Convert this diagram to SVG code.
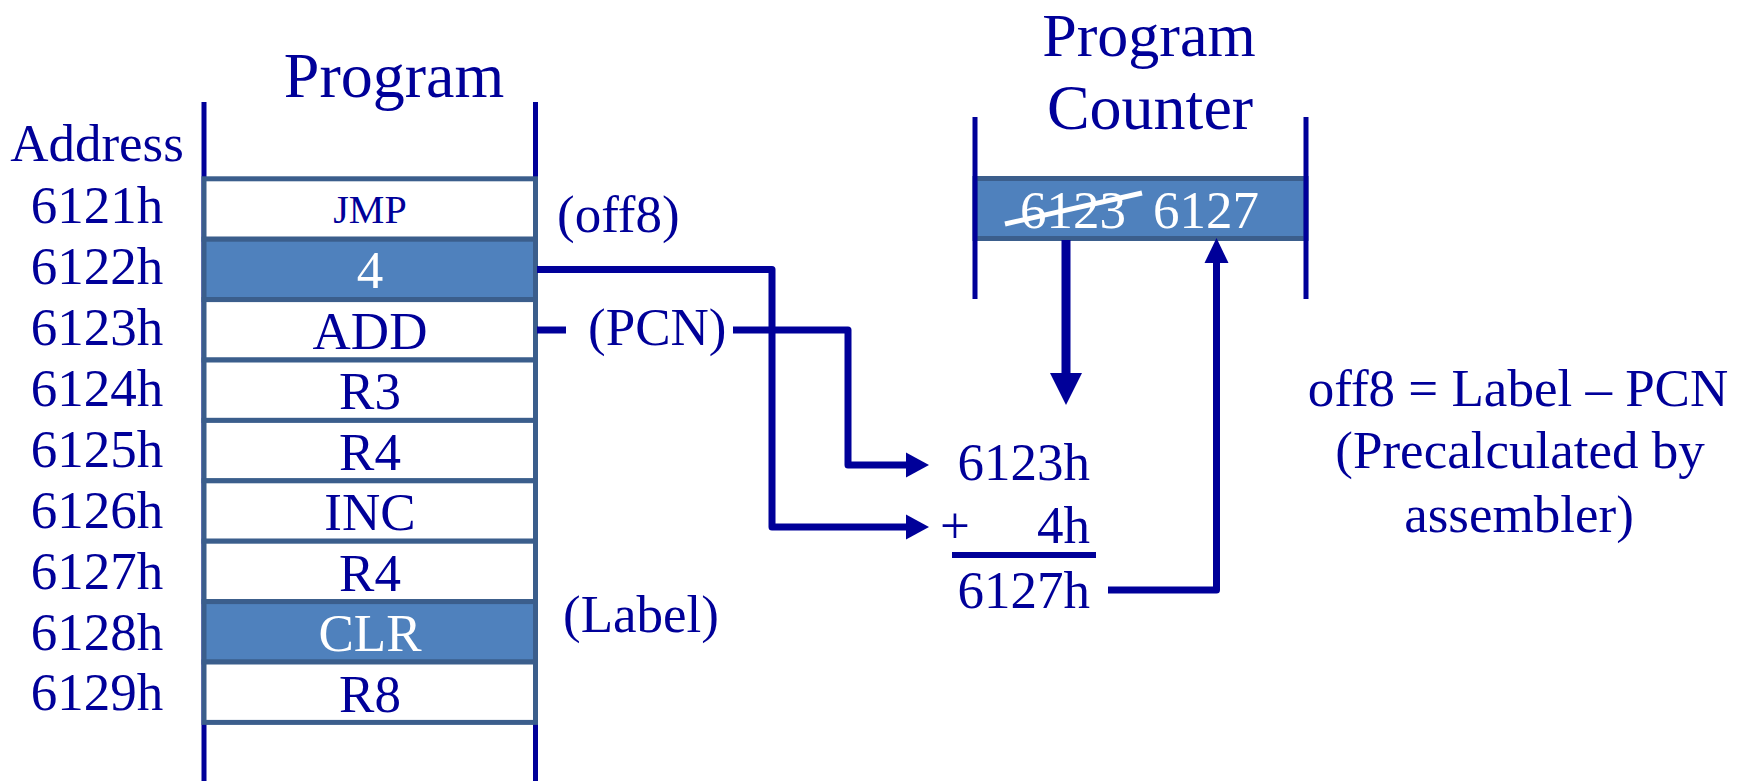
<svg xmlns="http://www.w3.org/2000/svg" width="1742" height="781" viewBox="0 0 1742 781">
<style>
.t{font-family:"Liberation Serif","Times New Roman",serif;font-size:53px;fill:#000099}
.c{text-anchor:middle}
.w{fill:#ffffff}
.ttl{font-size:64px}
.cell{stroke:#3B5E8C;stroke-width:5}
.wh{fill:#ffffff}
.bl{fill:#4F81BD}
.rail{stroke:#000099;stroke-width:5}
.conn{fill:none;stroke:#000099;stroke-width:7;stroke-linejoin:round}
.head{fill:#000099}
</style>
<g id="program-rails">
<line class="rail" x1="204" y1="102" x2="204" y2="781"/>
<line class="rail" x1="535.5" y1="102" x2="535.5" y2="781"/>
</g>
<text id="program-title" class="t ttl c" x="394" y="97">Program</text>
<text id="address-title" class="t c" x="97" y="161">Address</text>
<g id="addresses">
<text class="t c" x="97" y="223">6121h</text>
<text class="t c" x="97" y="284">6122h</text>
<text class="t c" x="97" y="345">6123h</text>
<text class="t c" x="97" y="406">6124h</text>
<text class="t c" x="97" y="467">6125h</text>
<text class="t c" x="97" y="528">6126h</text>
<text class="t c" x="97" y="589">6127h</text>
<text class="t c" x="97" y="650">6128h</text>
<text class="t c" x="97" y="710">6129h</text>
</g>
<g id="cell-6121">
<rect class="cell wh" x="204" y="178.8" width="331.5" height="60.4"/>
<text class="t c" x="370" y="223" style="font-size:40px">JMP</text>
</g>
<g id="cell-6122">
<rect class="cell bl" x="204" y="239.2" width="331.5" height="60.4"/>
<text class="t c w" x="370" y="288">4</text>
</g>
<g id="cell-6123">
<rect class="cell wh" x="204" y="299.6" width="331.5" height="60.4"/>
<text class="t c" x="370" y="348.5">ADD</text>
</g>
<g id="cell-6124">
<rect class="cell wh" x="204" y="360" width="331.5" height="60.4"/>
<text class="t c" x="370" y="409">R3</text>
</g>
<g id="cell-6125">
<rect class="cell wh" x="204" y="420.4" width="331.5" height="60.4"/>
<text class="t c" x="370" y="469.5">R4</text>
</g>
<g id="cell-6126">
<rect class="cell wh" x="204" y="480.8" width="331.5" height="60.4"/>
<text class="t c" x="370" y="530">INC</text>
</g>
<g id="cell-6127">
<rect class="cell wh" x="204" y="541.2" width="331.5" height="60.4"/>
<text class="t c" x="370" y="590.5">R4</text>
</g>
<g id="cell-6128">
<rect class="cell bl" x="204" y="601.6" width="331.5" height="60.4"/>
<text class="t c w" x="370" y="651">CLR</text>
</g>
<g id="cell-6129">
<rect class="cell wh" x="204" y="662" width="331.5" height="60.4"/>
<text class="t c" x="370" y="711.5">R8</text>
</g>
<g id="labels">
<text class="t" x="557" y="232">(off8)</text>
<text class="t" x="588" y="345">(PCN)</text>
<text class="t" x="563" y="632">(Label)</text>
</g>
<g id="program-counter">
<text class="t c" x="1149" y="56" style="font-size:62px">Program</text>
<text class="t ttl c" x="1150" y="129">Counter</text>
<rect class="cell bl" x="975" y="178.5" width="331" height="60"/>
<line class="rail" x1="975" y1="117" x2="975" y2="299"/>
<line class="rail" x1="1306" y1="117" x2="1306" y2="299"/>
<text class="t w" x="1020" y="228">6123</text>
<line x1="1005" y1="224" x2="1142" y2="193" stroke="#ffffff" stroke-width="5"/>
<text class="t w" x="1153" y="228">6127</text>
</g>
<g id="sum">
<text class="t" x="1090" y="480" text-anchor="end">6123h</text>
<text class="t" x="940" y="543">+</text>
<text class="t" x="1090" y="543" text-anchor="end">4h</text>
<line x1="952" y1="555" x2="1096" y2="555" stroke="#000099" stroke-width="6"/>
<text class="t" x="1090" y="608" text-anchor="end">6127h</text>
</g>
<g id="formula">
<text class="t c" x="1518" y="406">off8 = Label – PCN</text>
<text class="t c" x="1520" y="468">(Precalculated by</text>
<text class="t c" x="1519" y="532">assembler)</text>
</g>
<g id="connectors">
<polyline class="conn" points="537,269.5 772,269.5 772,527 908,527"/>
<polygon class="head" points="906,514.5 929,527 906,539.5"/>
<line class="conn" x1="537" y1="330" x2="566" y2="330"/>
<polyline class="conn" points="733,330 848,330 848,465 908,465"/>
<polygon class="head" points="906,452.5 929,465 906,477.5"/>
<polyline class="conn" points="1108,590 1216.5,590 1216.5,261"/>
<polygon class="head" points="1204.5,263 1216.5,238 1228.5,263"/>
<line x1="1066" y1="240" x2="1066" y2="375" stroke="#000099" stroke-width="9"/>
<polygon class="head" points="1050,373 1082,373 1066,405"/>
</g>
</svg>
